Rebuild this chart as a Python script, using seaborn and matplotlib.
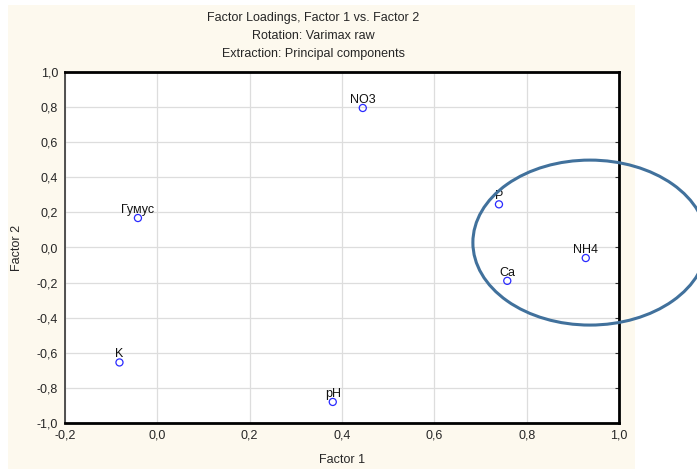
import seaborn as sns
import matplotlib.pyplot as plt
import matplotlib.lines as mlines
import numpy as np
import pandas as pd
from matplotlib.patches import Rectangle, Ellipse

# factor loadings
variables = ['NO3', 'Гумус', 'K', 'pH', 'P', 'Ca', 'NH4']
factor1 = [0.445, -0.042, -0.082, 0.380, 0.740, 0.758, 0.928]
factor2 = [0.795, 0.168, -0.655, -0.880, 0.246, -0.190, -0.060]
xticks = [-0.2, 0.0, 0.2, 0.4, 0.6, 0.8, 1.0]
yticks = [-1.0, -0.8, -0.6, -0.4, -0.2, 0.0, 0.2, 0.4, 0.6, 0.8, 1.0]

df = pd.DataFrame({'var': variables, 'f1': factor1, 'f2': factor2})

sns.set_style('white')
plt.rcParams['font.family'] = ['Liberation Sans', 'DejaVu Sans']

fig = plt.figure(figsize=(6.97, 4.69), dpi=100)
fig.patch.set_facecolor('white')
fig.patches.append(Rectangle((8 / 697, 0), 627 / 697, 1 - 5 / 469, transform=fig.transFigure,
                             facecolor='#fdf9ee', edgecolor='none', zorder=-10))

ax = fig.add_axes([65 / 697, 1 - 423 / 469, 554 / 697, 351 / 469])
ax.set_facecolor('white')

sns.scatterplot(data=df, x='f1', y='f2', ax=ax, marker='o', s=26,
                facecolors='none', edgecolor='#2a2aff', linewidth=0.9, zorder=3)

for _, r in df.iterrows():
    ax.annotate(r['var'], (r['f1'], r['f2']), xytext=(0, 1.5), textcoords='offset points',
                ha='center', va='bottom', fontsize=9, color='#111111', zorder=4)

ax.set_xlim(-0.2, 1.0)
ax.set_ylim(-1.0, 1.0)
ax.set_xticks(xticks)
ax.set_yticks(yticks)
ax.set_xticklabels([f'{v:.1f}'.replace('.', ',') for v in xticks], fontsize=9)
ax.set_yticklabels([f'{v:.1f}'.replace('.', ',') for v in yticks], fontsize=9)
ax.grid(True, color='#dddddd', linewidth=0.9)
ax.set_axisbelow(True)
for s in ax.spines.values():
    s.set_color('black')
    s.set_linewidth(2)
ax.spines['left'].set_color('#444444')
ax.spines['left'].set_linewidth(1.3)
ax.tick_params(axis='y', direction='out', length=3, width=0.8, color='#333333', pad=2, right=True)
ax.tick_params(axis='x', length=0, pad=5)
for t in ax.yaxis.get_major_ticks():
    t.tick2line.set_marker(mlines.TICKLEFT)
ax.set_xlabel('Factor 1', fontsize=9, labelpad=9)
ax.set_ylabel('Factor 2', fontsize=9, labelpad=10)

# highlight ellipse around the right-hand cluster
ell = Ellipse((0.937, 0.028), 0.507, 0.94, fill=False, edgecolor='#41719c',
              linewidth=2.2, clip_on=False, zorder=5)
ax.add_patch(ell)

fig.text(313 / 697, 1 - 18 / 469, 'Factor Loadings, Factor 1 vs. Factor 2', ha='center', va='center', fontsize=9)
fig.text(313 / 697, 1 - 36 / 469, 'Rotation: Varimax raw', ha='center', va='center', fontsize=9)
fig.text(313 / 697, 1 - 54 / 469, 'Extraction: Principal components', ha='center', va='center', fontsize=9)

fig.savefig('out.png', dpi=100)
